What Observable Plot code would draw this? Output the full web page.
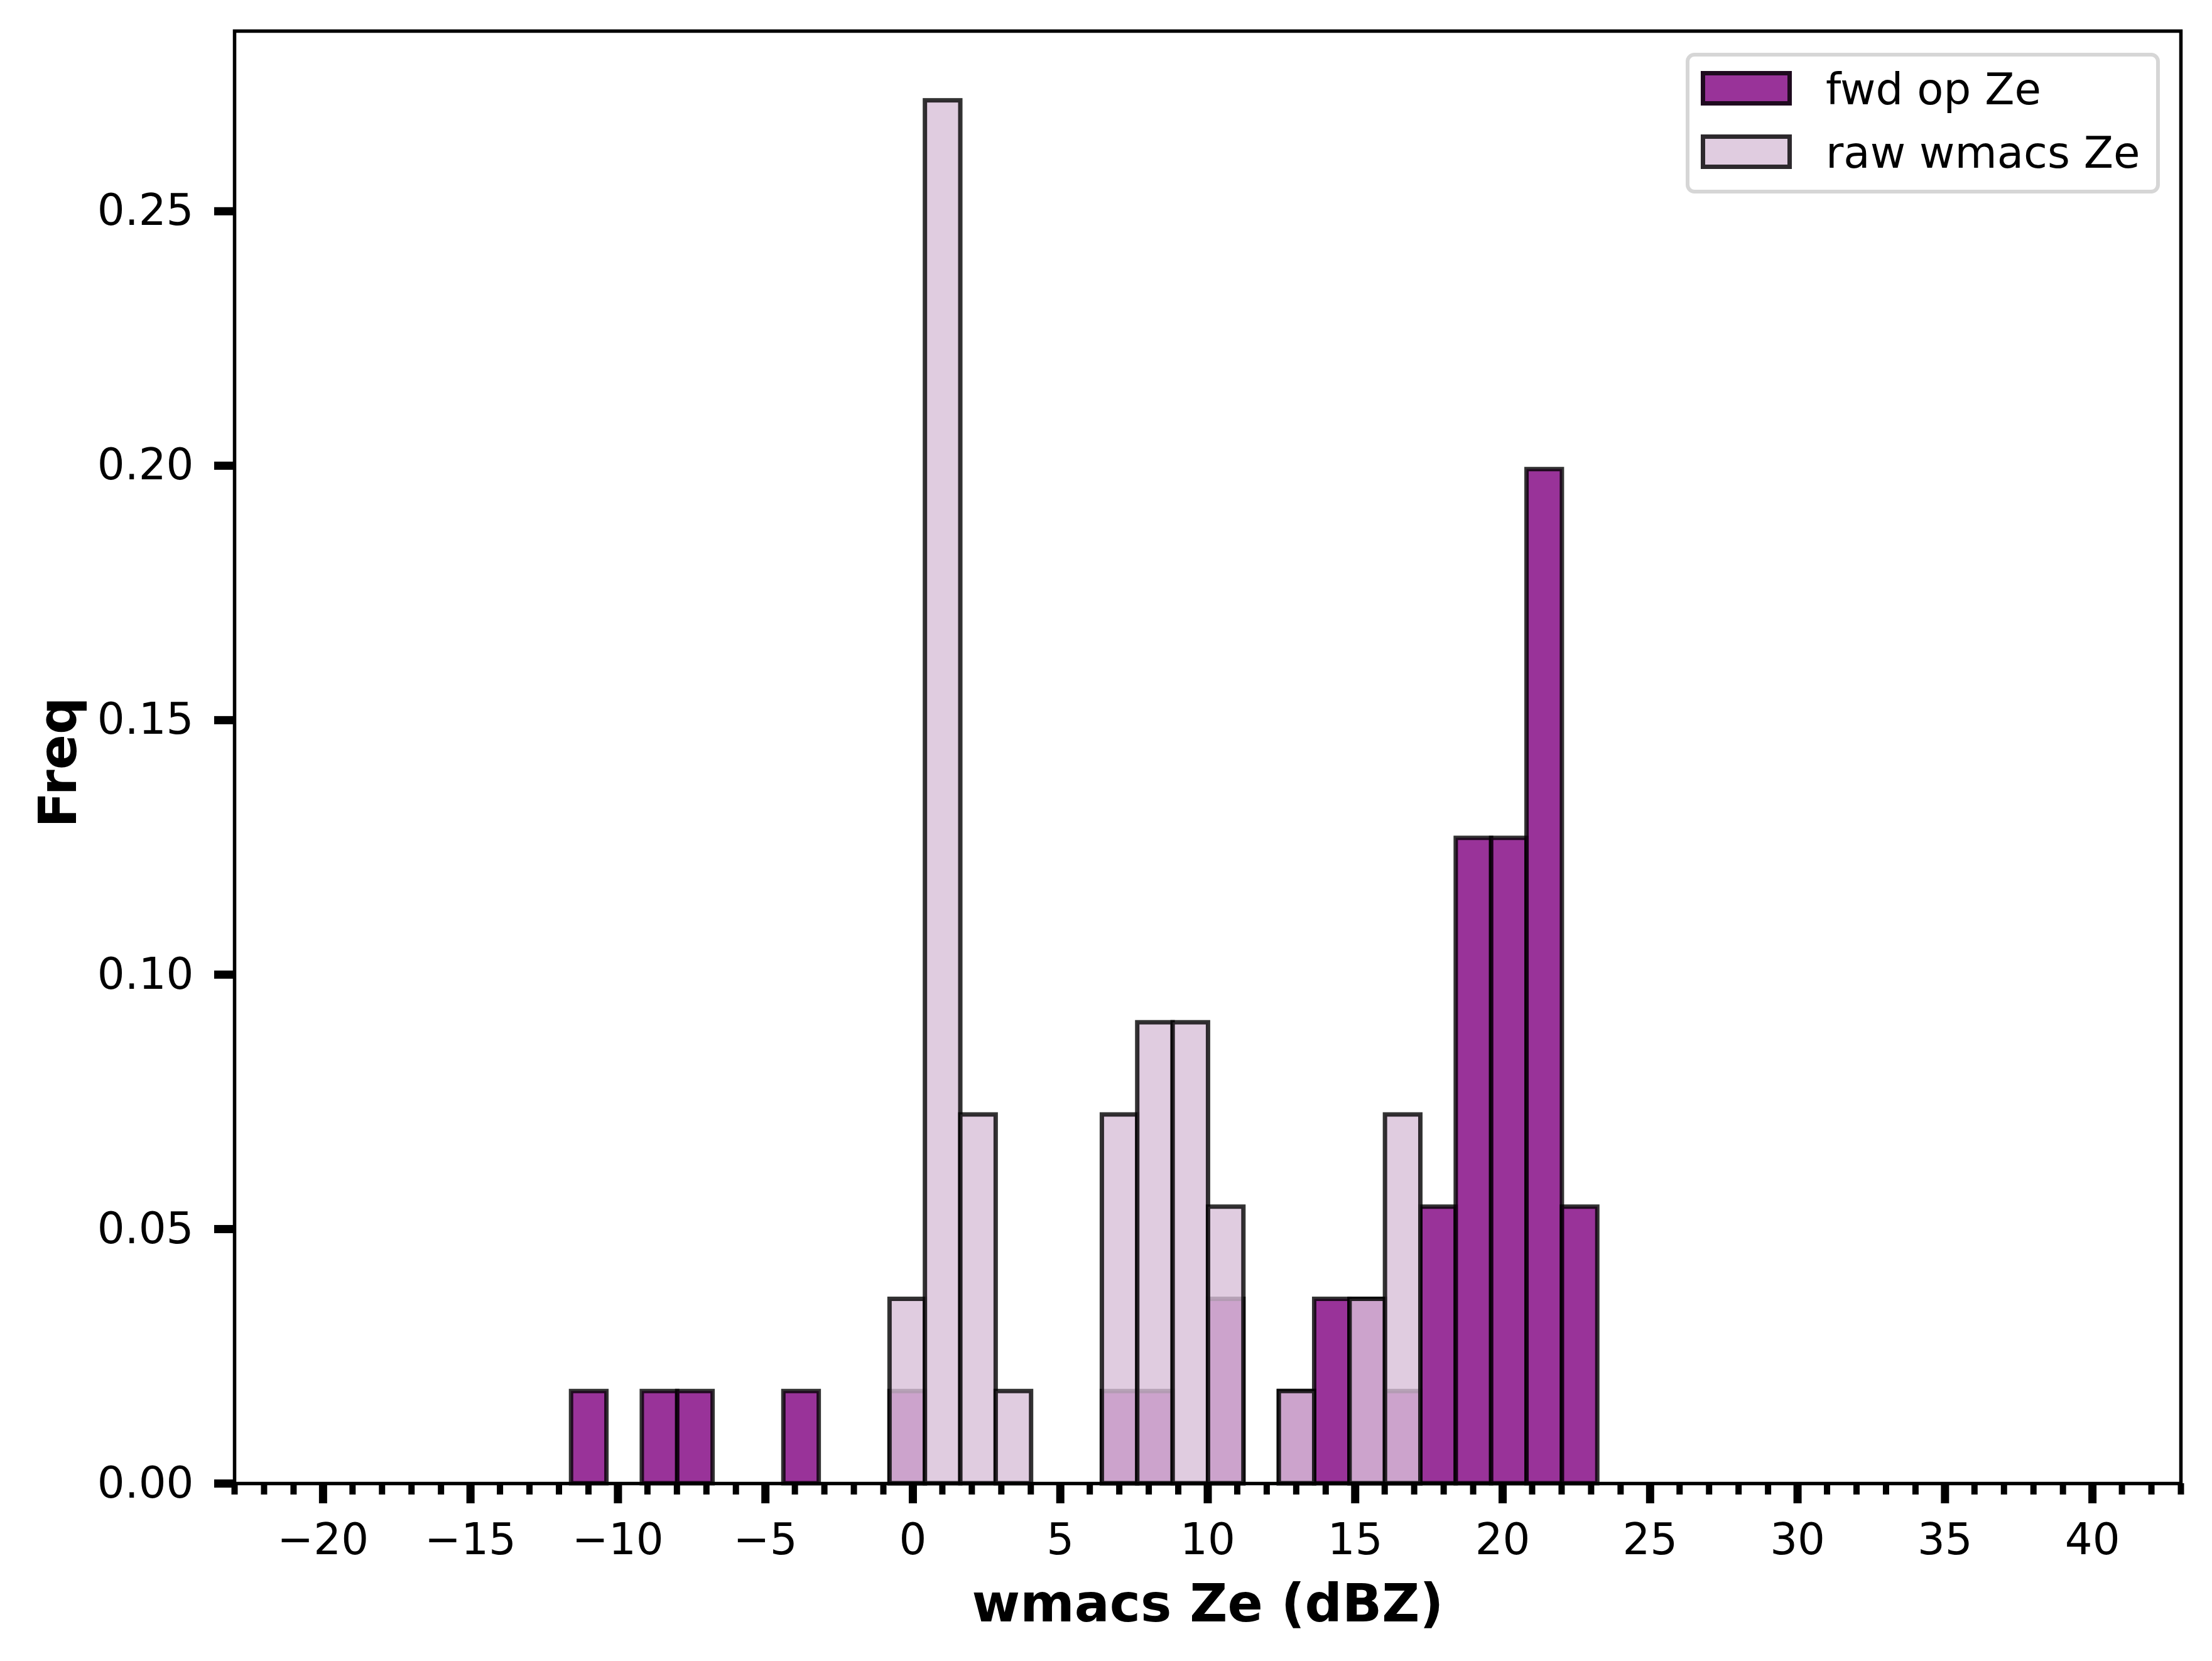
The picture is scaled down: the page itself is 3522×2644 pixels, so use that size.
<!DOCTYPE html>
<html>
<head>
<meta charset="utf-8">
<script src="https://cdn.jsdelivr.net/npm/d3@7"></script>
<script src="https://cdn.jsdelivr.net/npm/@observablehq/plot@0.6"></script>
<style>
  html, body { margin: 0; padding: 0; background: #ffffff; }
  #wrap { position: relative; width: 3522px; height: 2644px; font-family: "DejaVu Sans", sans-serif; background: #ffffff; }
  #wrap svg { display: block; }
  .legend-box { position: absolute; box-sizing: border-box; border: 6px solid #d6d6d6; border-radius: 14px; background: rgba(255,255,255,0.8); }
  .legend-swatch { position: absolute; box-sizing: border-box; border: 7px solid rgba(0,0,0,0.8); }
  .legend-text { position: absolute; font-family: "DejaVu Sans", sans-serif; font-size: 69px; line-height: 69px; height: 69px; white-space: nowrap; color: #000; }
</style>
</head>
<body>
<div id="wrap"></div>
<script>
// ---- data ----
const binStart = -11.58;      // left edge of first histogram bin (dBZ)
const binWidth = 1.2;         // bin width (dBZ)
const fwdCounts = [1,0,1,1,0,0,1,0,0,1,0,0,0,0,0,1,1,0,2,0,1,2,2,1,3,7,7,11,3];
const rawCounts = [0,0,0,0,0,0,0,0,0,2,15,4,1,0,0,4,5,5,3,0,1,0,2,4,0,0,0,0,0];
const seriesNames = ["fwd op Ze", "raw wmacs Ze"];
const seriesColors = ["purple", "thistle"];
const xTicks = [-20,-15,-10,-5,0,5,10,15,20,25,30,35,40];
const xMinorTicks = d3.range(-23, 44, 1);
const yTicks = [0, 0.05, 0.10, 0.15, 0.20, 0.25];
const xDomain = [-23, 43];
const yDomain = [0, 0.2854];
const xLabel = "wmacs Ze (dBZ)";
const yLabel = "Freq";

// density histogram table (count / (N * binWidth))
function toBins(counts) {
  const n = d3.sum(counts);
  return counts
    .map((c, i) => ({x1: binStart + i * binWidth, x2: binStart + (i + 1) * binWidth, freq: c / (n * binWidth)}))
    .filter(d => d.freq > 0);
}

const barStyle = {fillOpacity: 0.8, stroke: "black", strokeOpacity: 0.8, strokeWidth: 7, inset: 0};

const chart = Plot.plot({
  width: 3522,
  height: 2644,
  marginLeft: 373,
  marginRight: 50,
  marginTop: 49,
  marginBottom: 283,
  style: {fontFamily: "DejaVu Sans", fontSize: "69px", background: "white", color: "black", overflow: "visible"},
  x: {domain: xDomain, label: null},
  y: {domain: yDomain, label: null},
  marks: [
    Plot.rectY(toBins(fwdCounts), {x1: "x1", x2: "x2", y1: 0, y2: "freq", fill: seriesColors[0], ...barStyle}),
    Plot.rectY(toBins(rawCounts), {x1: "x1", x2: "x2", y1: 0, y2: "freq", fill: seriesColors[1], ...barStyle}),
    Plot.frame({stroke: "black", strokeWidth: 5.5}),
    Plot.axisX(xMinorTicks, {tickSize: 18, strokeWidth: 10, fill: "none", label: null}),
    Plot.axisX(xTicks, {tickSize: 32, strokeWidth: 13, tickPadding: 31, fontSize: 69, label: null, tickFormat: d => d3.format("d")(d).replace("-", "\u2212")}),
    Plot.axisY(yTicks, {tickSize: 32, strokeWidth: 13, tickPadding: 33, fontSize: 69, label: null, tickFormat: d3.format(".2f")}),
    Plot.text([xLabel], {frameAnchor: "bottom", dy: 193, textAnchor: "middle", lineAnchor: "middle", fontSize: 83, fontWeight: "bold", fill: "black"}),
    Plot.text([yLabel], {frameAnchor: "left", dx: -279, dy: 8, rotate: -90, textAnchor: "middle", lineAnchor: "middle", fontSize: 83, fontWeight: "bold", fill: "black"})
  ]
});

const wrap = document.getElementById("wrap");
wrap.appendChild(chart);

// legend (inside the axes, upper right)
const box = document.createElement("div");
box.className = "legend-box";
Object.assign(box.style, {left: "2684px", top: "84px", width: "755px", height: "224px"});
wrap.appendChild(box);

const swatchTops = [113, 214];
const textTops = [108, 209];
seriesNames.forEach((name, i) => {
  const sw = document.createElement("div");
  sw.className = "legend-swatch";
  const c = d3.color(seriesColors[i]);
  c.opacity = 0.8;
  Object.assign(sw.style, {left: "2708px", top: swatchTops[i] + "px", width: "145px", height: "55px", background: c.formatRgb()});
  wrap.appendChild(sw);
  const tx = document.createElement("div");
  tx.className = "legend-text";
  tx.textContent = name;
  Object.assign(tx.style, {left: "2907px", top: textTops[i] + "px"});
  wrap.appendChild(tx);
});
</script>
</body>
</html>
